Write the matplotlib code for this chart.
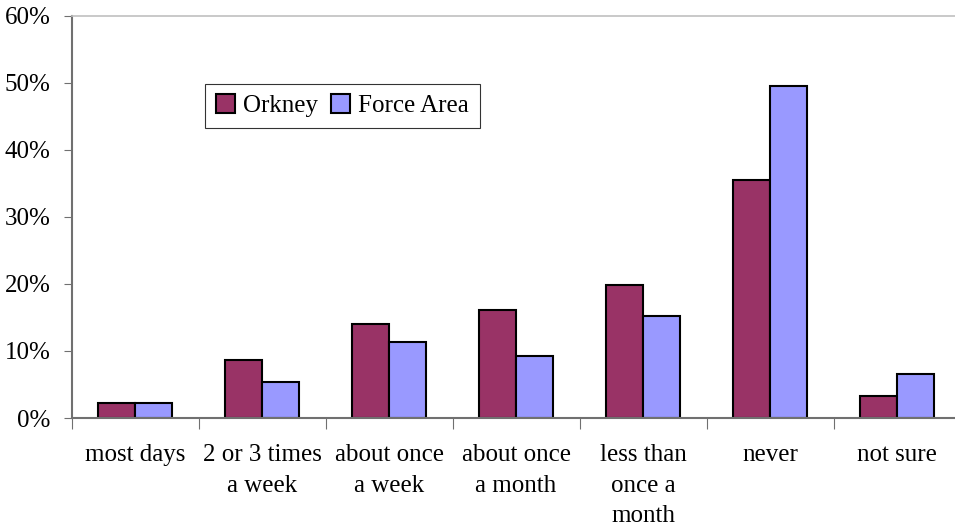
import matplotlib.pyplot as plt
import numpy as np
from matplotlib.ticker import FuncFormatter

categories = ["most days", "2 or 3 times\na week", "about once\na week",
              "about once\na month", "less than\nonce a\nmonth", "never", "not sure"]
orkney = [2.2, 8.7, 14.0, 16.1, 19.9, 35.5, 3.3]
force_area = [2.2, 5.4, 11.3, 9.3, 15.2, 49.6, 6.6]

plt.rcParams["font.family"] = ["Liberation Serif", "DejaVu Serif"]
plt.rcParams["font.size"] = 18

fig = plt.figure(figsize=(9.55, 5.3), dpi=100)
# plot area runs a little past the right edge of the image, as in the original
ax = fig.add_axes([0.0749, 0.2113, 0.931, 0.7587])

x = np.arange(len(categories))
width = 0.29
ax.bar(x - width / 2, orkney, width, color="#993366", edgecolor="black",
       linewidth=1.5, label="Orkney")
ax.bar(x + width / 2, force_area, width, color="#9999ff", edgecolor="black",
       linewidth=1.5, label="Force Area")

ax.set_xlim(-0.5, len(categories) - 0.5)
ax.set_ylim(0, 60)
ax.set_yticks(np.arange(0, 61, 10))
ax.yaxis.set_major_formatter(FuncFormatter(lambda v, _: f"{v:.0f}%"))

ax.set_xticks(np.arange(-0.5, len(categories), 1.0))
ax.set_xticklabels([])
ax.set_xticks(x, minor=True)
ax.set_xticklabels(categories, minor=True, linespacing=1.5)
ax.tick_params(axis="x", which="minor", length=0, pad=19)
ax.tick_params(axis="x", which="major", length=8, color="#707070", direction="out")
ax.tick_params(axis="y", length=6, color="#707070", pad=9)

for side in ("left", "bottom"):
    ax.spines[side].set_color("#707070")
    ax.spines[side].set_linewidth(1.5)
ax.spines["right"].set_visible(False)
ax.spines["top"].set_color("#c0c0c0")
ax.spines["top"].set_linewidth(1.2)

leg = ax.legend(loc="upper left", bbox_to_anchor=(0.1365, 0.862), ncol=2,
                frameon=True, fancybox=False, edgecolor="black",
                handlelength=0.75, handleheight=0.75, handletextpad=0.35,
                columnspacing=0.5, borderpad=0.42, fontsize=18)
leg.get_frame().set_linewidth(0.8)

fig.savefig("out.png", dpi=100)
